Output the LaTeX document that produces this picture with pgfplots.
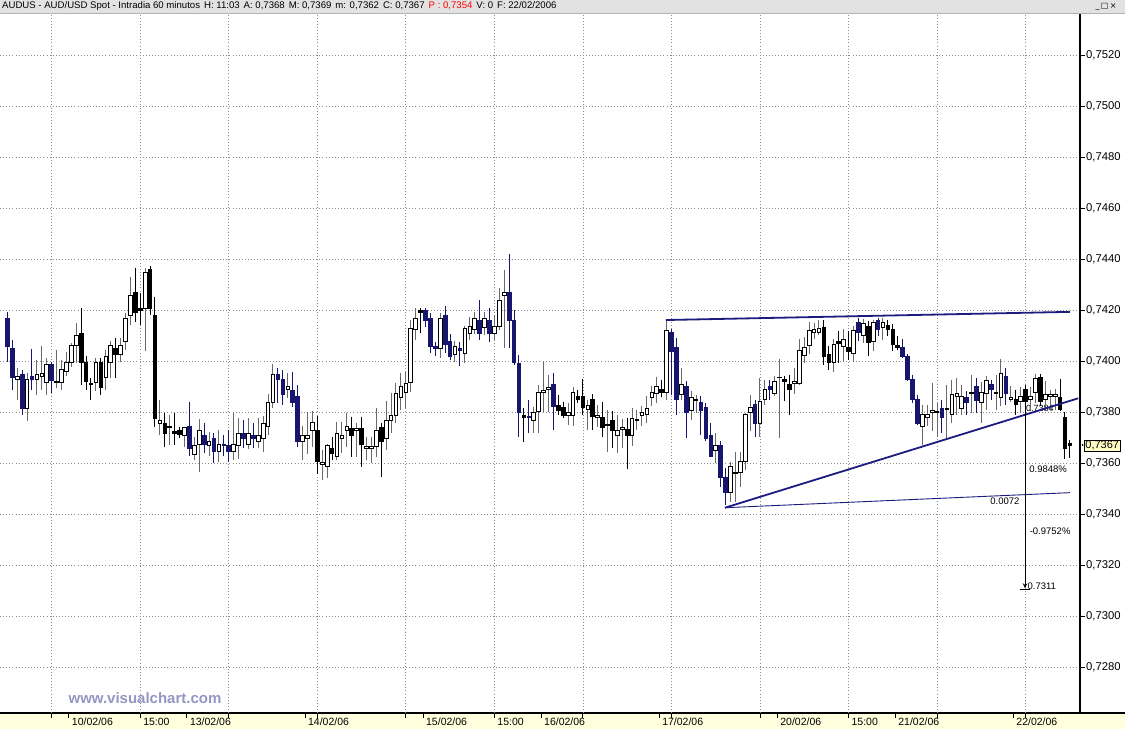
\documentclass[border=0pt]{standalone}
\usepackage{pgfplots}
\pgfplotsset{compat=1.18}
\usepackage{pgfplotstable}
\usepackage{fontspec}
\setmainfont{Liberation Sans}
\newfontfamily\dejavu{DejaVu Sans}
\usetikzlibrary{arrows.meta}

\definecolor{navyc}{RGB}{22,22,110}
\definecolor{wickg}{RGB}{105,105,105}
\definecolor{tline}{RGB}{28,28,128}
\definecolor{gridc}{RGB}{140,140,140}
\definecolor{hdr}{RGB}{226,226,226}
\definecolor{strip}{RGB}{255,255,222}
\definecolor{wm}{RGB}{150,150,196}
\definecolor{pbox}{RGB}{255,255,196}

% white (rising) candles
\pgfplotstableread{
i o h l c
2 0.73930 0.73973 0.73849 0.73940
4 0.73816 0.73953 0.73768 0.73930
6 0.73930 0.74006 0.73869 0.73950
7 0.73943 0.74061 0.73888 0.73951
8 0.73918 0.74012 0.73869 0.73990
10 0.73918 0.74045 0.73895 0.73923
11 0.73918 0.74006 0.73888 0.73969
12 0.73960 0.74038 0.73943 0.73995
13 0.73995 0.74071 0.73977 0.74061
14 0.74061 0.74149 0.73993 0.74100
18 0.73918 0.74012 0.73882 0.73997
20 0.73938 0.74045 0.73888 0.74019
21 0.73995 0.74081 0.73934 0.74061
23 0.74029 0.74091 0.73999 0.74061
24 0.74078 0.74189 0.74045 0.74169
25 0.74180 0.74332 0.74143 0.74258
28 0.74208 0.74365 0.74042 0.74349
31 0.73757 0.73849 0.73712 0.73769
33 0.73742 0.73790 0.73672 0.73747
36 0.73708 0.73744 0.73666 0.73742
38 0.73637 0.73705 0.73614 0.73669
39 0.73676 0.73773 0.73568 0.73730
41 0.73669 0.73721 0.73627 0.73685
43 0.73646 0.73731 0.73607 0.73675
46 0.73646 0.73799 0.73614 0.73675
47 0.73672 0.73777 0.73616 0.73718
49 0.73676 0.73777 0.73655 0.73718
51 0.73685 0.73777 0.73660 0.73708
52 0.73699 0.73784 0.73646 0.73757
53 0.73747 0.73872 0.73712 0.73838
54 0.73838 0.73990 0.73816 0.73950
57 0.73892 0.73953 0.73855 0.73901
60 0.73685 0.73747 0.73613 0.73708
61 0.73698 0.73803 0.73637 0.73708
62 0.73728 0.73807 0.73666 0.73760
64 0.73598 0.73653 0.73535 0.73602
65 0.73587 0.73676 0.73541 0.73670
67 0.73626 0.73764 0.73613 0.73718
68 0.73698 0.73764 0.73640 0.73708
69 0.73728 0.73799 0.73663 0.73744
71 0.73731 0.73760 0.73626 0.73738
73 0.73659 0.73705 0.73613 0.73668
74 0.73659 0.73705 0.73600 0.73668
75 0.73668 0.73816 0.73626 0.73728
77 0.73698 0.73846 0.73653 0.73770
78 0.73770 0.73875 0.73718 0.73790
79 0.73790 0.73917 0.73757 0.73875
80 0.73859 0.73953 0.73809 0.73901
81 0.73877 0.73960 0.73816 0.73914
82 0.73917 0.74162 0.73881 0.74130
83 0.74126 0.74208 0.74084 0.74169
88 0.74051 0.74189 0.74012 0.74169
91 0.74029 0.74081 0.73999 0.74060
93 0.74032 0.74139 0.73992 0.74130
94 0.74110 0.74173 0.74084 0.74136
95 0.74126 0.74195 0.74107 0.74169
97 0.74134 0.74195 0.74104 0.74169
99 0.74110 0.74182 0.74084 0.74139
100 0.74139 0.74286 0.74123 0.74241
101 0.74260 0.74358 0.74051 0.74269
107 0.73770 0.73822 0.73718 0.73799
108 0.73803 0.73907 0.73718 0.73877
109 0.73877 0.73999 0.73803 0.73888
110 0.73890 0.73947 0.73803 0.73898
114 0.73787 0.73836 0.73751 0.73799
115 0.73788 0.73900 0.73745 0.73879
118 0.73810 0.73849 0.73731 0.73829
120 0.73780 0.73829 0.73744 0.73790
122 0.73748 0.73810 0.73646 0.73753
124 0.73708 0.73791 0.73640 0.73730
125 0.73732 0.73774 0.73659 0.73741
127 0.73708 0.73817 0.73669 0.73778
128 0.73768 0.73810 0.73732 0.73772
129 0.73787 0.73826 0.73746 0.73800
130 0.73791 0.73865 0.73760 0.73815
131 0.73860 0.73905 0.73823 0.73879
132 0.73873 0.73939 0.73837 0.73900
134 0.73879 0.74162 0.73850 0.74122
137 0.73869 0.73974 0.73850 0.73909
139 0.73808 0.73882 0.73771 0.73860
140 0.73847 0.73869 0.73797 0.73852
144 0.73649 0.73719 0.73601 0.73670
147 0.73485 0.73607 0.73450 0.73590
148 0.73559 0.73646 0.73450 0.73564
149 0.73565 0.73646 0.73509 0.73607
150 0.73607 0.73797 0.73575 0.73791
151 0.73800 0.73869 0.73725 0.73821
153 0.73755 0.73935 0.73705 0.73843
154 0.73850 0.73928 0.73830 0.73889
156 0.73873 0.73941 0.73863 0.73922
157 0.73936 0.74010 0.73699 0.73939
160 0.73915 0.73974 0.73873 0.73922
161 0.73913 0.74088 0.73909 0.74044
162 0.74023 0.74096 0.73994 0.74053
163 0.74062 0.74154 0.74027 0.74122
164 0.74115 0.74149 0.74088 0.74125
165 0.74112 0.74162 0.74105 0.74128
168 0.73997 0.74088 0.73957 0.74066
170 0.74060 0.74125 0.74000 0.74088
172 0.74031 0.74138 0.73997 0.74122
174 0.74101 0.74167 0.74073 0.74149
176 0.74079 0.74164 0.74040 0.74154
178 0.74132 0.74171 0.74083 0.74151
186 0.73747 0.73830 0.73673 0.73791
187 0.73782 0.73830 0.73745 0.73791
188 0.73800 0.73915 0.73725 0.73806
189 0.73800 0.73837 0.73705 0.73804
191 0.73810 0.73909 0.73692 0.73817
192 0.73791 0.73928 0.73758 0.73869
193 0.73863 0.73935 0.73791 0.73873
194 0.73817 0.73909 0.73791 0.73863
196 0.73873 0.73948 0.73797 0.73879
198 0.73839 0.73918 0.73758 0.73879
199 0.73873 0.73941 0.73810 0.73926
201 0.73873 0.73948 0.73810 0.73879
202 0.73860 0.74010 0.73823 0.73952
204 0.73852 0.73905 0.73839 0.73860
206 0.73843 0.73900 0.73797 0.73863
208 0.73852 0.73900 0.73804 0.73863
209 0.73879 0.73952 0.73837 0.73935
211 0.73850 0.73922 0.73804 0.73869
212 0.73863 0.73889 0.73804 0.73869
213 0.73863 0.73892 0.73810 0.73869
}\whiteC

% black (falling) candles
\pgfplotstableread{
i o h l c
15 0.74110 0.74208 0.73908 0.73995
16 0.73997 0.74019 0.73888 0.73921
17 0.73914 0.73934 0.73849 0.73909
19 0.73997 0.74012 0.73869 0.73899
22 0.74050 0.74091 0.73934 0.74029
26 0.74270 0.74365 0.74156 0.74191
27 0.74208 0.74267 0.74143 0.74199
29 0.74361 0.74374 0.74182 0.74208
30 0.74182 0.74254 0.73744 0.73777
32 0.73757 0.73797 0.73666 0.73718
34 0.73727 0.73797 0.73672 0.73718
35 0.73731 0.73744 0.73699 0.73712
63 0.73731 0.73786 0.73560 0.73607
66 0.73659 0.73705 0.73613 0.73640
70 0.73738 0.73783 0.73626 0.73708
72 0.73738 0.73783 0.73587 0.73676
76 0.73741 0.73760 0.73548 0.73685
84 0.74198 0.74208 0.74110 0.74192
105 0.73790 0.73816 0.73685 0.73781
112 0.73829 0.73868 0.73790 0.73809
113 0.73820 0.73842 0.73777 0.73790
116 0.73862 0.73888 0.73836 0.73851
117 0.73861 0.73930 0.73791 0.73818
119 0.73850 0.73871 0.73731 0.73783
121 0.73780 0.73840 0.73705 0.73741
123 0.73768 0.73804 0.73659 0.73730
126 0.73732 0.73777 0.73579 0.73708
133 0.73889 0.73928 0.73860 0.73880
158 0.73931 0.73944 0.73843 0.73922
159 0.73909 0.73948 0.73791 0.73889
166 0.74132 0.74162 0.73987 0.74020
167 0.74027 0.74062 0.73968 0.73997
169 0.74079 0.74118 0.73994 0.74070
171 0.74053 0.74118 0.74007 0.74040
175 0.74138 0.74158 0.74020 0.74073
179 0.74141 0.74164 0.74101 0.74125
180 0.74125 0.74145 0.74040 0.74066
181 0.74062 0.74099 0.74046 0.74053
205 0.73852 0.73889 0.73791 0.73830
207 0.73889 0.73909 0.73797 0.73843
210 0.73939 0.73952 0.73823 0.73843
214 0.73860 0.73931 0.73804 0.73810
215 0.73782 0.73800 0.73616 0.73660
216 0.73680 0.73690 0.73620 0.73670
}\blackC

% navy (falling) candles
\pgfplotstableread{
i o h l c
0 0.74169 0.74195 0.73999 0.74058
1 0.74051 0.74084 0.73888 0.73938
3 0.73950 0.73966 0.73790 0.73816
5 0.73940 0.74050 0.73888 0.73930
9 0.73990 0.73997 0.73875 0.73927
37 0.73747 0.73842 0.73627 0.73660
40 0.73708 0.73757 0.73640 0.73676
42 0.73699 0.73718 0.73601 0.73646
44 0.73675 0.73712 0.73627 0.73670
45 0.73669 0.73729 0.73607 0.73646
48 0.73718 0.73770 0.73660 0.73699
50 0.73708 0.73760 0.73660 0.73699
55 0.73950 0.73973 0.73836 0.73931
56 0.73930 0.73966 0.73829 0.73871
58 0.73888 0.73960 0.73822 0.73838
59 0.73862 0.73907 0.73666 0.73685
85 0.74198 0.74208 0.74134 0.74160
86 0.74169 0.74189 0.74034 0.74060
87 0.74060 0.74077 0.74019 0.74051
89 0.74182 0.74217 0.74032 0.74068
90 0.74077 0.74106 0.74005 0.74019
92 0.74051 0.74077 0.73982 0.74042
96 0.74162 0.74241 0.74084 0.74110
98 0.74160 0.74208 0.74077 0.74110
102 0.74269 0.74421 0.74051 0.74162
103 0.74162 0.74202 0.73986 0.73995
104 0.73992 0.74025 0.73705 0.73799
106 0.73786 0.73849 0.73718 0.73781
111 0.73911 0.73953 0.73731 0.73822
135 0.74115 0.74128 0.73869 0.74040
136 0.74053 0.74092 0.73791 0.73850
138 0.73900 0.73922 0.73699 0.73800
141 0.73839 0.73863 0.73712 0.73808
142 0.73821 0.73837 0.73686 0.73699
143 0.73708 0.73758 0.73623 0.73627
145 0.73670 0.73686 0.73509 0.73546
146 0.73546 0.73581 0.73435 0.73485
152 0.73830 0.73850 0.73705 0.73755
155 0.73902 0.73928 0.73850 0.73889
173 0.74151 0.74171 0.74079 0.74112
177 0.74162 0.74171 0.74099 0.74125
182 0.74053 0.74086 0.74014 0.74020
183 0.74020 0.74027 0.73922 0.73931
184 0.73931 0.73948 0.73837 0.73852
185 0.73852 0.73869 0.73751 0.73758
190 0.73817 0.73850 0.73719 0.73782
195 0.73860 0.73882 0.73791 0.73839
197 0.73900 0.73935 0.73797 0.73847
200 0.73909 0.73928 0.73850 0.73889
203 0.73941 0.73974 0.73830 0.73873
}\navyC

% #1 table, #2 wick colour, #3 body fill, #4 body outline
\newcommand\drawcandles[4]{%
  \pgfplotstablegetrowsof{#1}%
  \pgfmathtruncatemacro\nrows{\pgfplotsretval-1}%
  \pgfplotsforeachungrouped \rr in {0,...,\nrows}{%
    \pgfplotstablegetelem{\rr}{i}\of{#1}\let\ci\pgfplotsretval
    \pgfplotstablegetelem{\rr}{o}\of{#1}\let\co\pgfplotsretval
    \pgfplotstablegetelem{\rr}{h}\of{#1}\let\chh\pgfplotsretval
    \pgfplotstablegetelem{\rr}{l}\of{#1}\let\cl\pgfplotsretval
    \pgfplotstablegetelem{\rr}{c}\of{#1}\let\cc\pgfplotsretval
    \pgfmathsetmacro\xa{\ci-0.37}%
    \pgfmathsetmacro\xb{\ci+0.37}%
    \edef\tmp{%
      \noexpand\addplot[forget plot, draw=#2, line width=0.9pt] coordinates {(\ci,\chh) (\ci,\cl)};
      \noexpand\addplot[forget plot, draw=#4, fill=#3, line width=0.7pt] coordinates {(\xa,\co) (\xb,\co) (\xb,\cc) (\xa,\cc)} -- cycle;
    }%
    \tmp
  }%
}

\begin{document}
\begin{tikzpicture}[x=1pt,y=1pt]
\useasboundingbox (0,0) rectangle (1125,729);
\fill[white] (0,0) rectangle (1125,729);
\fill[strip] (0,0) rectangle (1125,16);
\begin{axis}[
  at={(0pt,16pt)}, anchor=south west, scale only axis,
  width=1080pt, height=700pt,
  xmin=-1.484, xmax=218.07, ymin=0.72621, ymax=0.75366,
  axis x line*=bottom, axis y line*=right,
  axis line style={black, line width=1.2pt},
  clip=false,
  scaled y ticks=false,
  /pgf/number format/assume math mode=true,
  ytick={0.728,0.730,0.732,0.734,0.736,0.738,0.740,0.742,0.744,0.746,0.748,0.750,0.752},
  yticklabel style={anchor=west, inner sep=1pt, font=\fontsize{11.3}{12}\selectfont,
    /pgf/number format/.cd, fixed, fixed zerofill, precision=4, use comma},
  ymajorgrids,
  xtick={12.5,36.5,60.5,84.5,108.5,132.5,156.5,180.5,204.5},
  xticklabels={10/02/06,13/02/06,14/02/06,15/02/06,16/02/06,17/02/06,20/02/06,21/02/06,22/02/06},
  extra x ticks={9,27,45,63,81,99,117,135,153,171,189,207},
  extra x tick labels={,15:00,,,,15:00,,,,15:00,,},
  extra x tick style={grid=major},
  xticklabel style={anchor=west, yshift=-4pt, xshift=2pt, inner sep=1pt, font=\fontsize{10.5}{12}\selectfont},
  major grid style={gridc, line width=0.6pt, dash pattern=on 0.9pt off 2.2pt},
  tick align=outside, major tick length=5pt,
  tick style={black, line width=0.8pt},
]
% level label partly hidden behind the candles
\node[font=\fontsize{9}{10}\selectfont] at (axis cs:209.9,0.73817) {0.7384};

\drawcandles{\whiteC}{wickg}{white}{black}
\drawcandles{\blackC}{black}{black}{black}
\drawcandles{\navyC}{navyc}{navyc}{navyc}

% drawn trend lines
\addplot[tline, line width=1.8pt, forget plot] coordinates {(133.9,0.74162) (216.0,0.74194)};
\addplot[tline, line width=1.8pt, forget plot] coordinates {(145.9,0.73426) (217.7,0.73855)};
\addplot[tline, line width=0.9pt, forget plot] coordinates {(145.9,0.73426) (216.0,0.73485)};
% projection arrow
\addplot[black, line width=0.8pt, forget plot, -{Stealth[length=5pt,width=4.5pt]}] coordinates {(206.9,0.73835) (206.9,0.73110)};
\addplot[black, line width=0.8pt, forget plot] coordinates {(205.8,0.73106) (208.0,0.73106)};

\node[font=\fontsize{9.5}{10}\selectfont] at (axis cs:211.6,0.73578) {0.9848\%};
\node[font=\fontsize{9.5}{10}\selectfont] at (axis cs:202.8,0.73452) {0.0072};
\node[font=\fontsize{9.5}{10}\selectfont] at (axis cs:212.0,0.73333) {-0.9752\%};
\node[font=\fontsize{9.5}{10}\selectfont] at (axis cs:210.3,0.73119) {0.7311};

% current price tag
\node[anchor=west, fill=pbox, draw=black, line width=0.5pt, inner sep=1.2pt,
  font=\fontsize{11}{12}\selectfont, xshift=4pt] at (axis cs:218.07,0.7367) {0,7367};
\end{axis}
% bottom line under the price scale
\draw[black, line width=1.2pt] (1080,16) -- (1125,16);
\fill[black] (1082.5,284) circle (1pt);
% header bar
\fill[hdr] (0,716) rectangle (1125,729);
\draw[gray!60, line width=0.4pt] (0,716) -- (1125,716);
\node[anchor=west, inner sep=0pt, font=\fontsize{9.6}{10}\selectfont] at (2,722.5)
  {AUDUS - AUD/USD Spot - Intradia 60 minutos\hspace{4pt}H: 11:03\hspace{4pt}A: 0,7368\hspace{4pt}M: 0,7369\hspace{4pt}m: 0,7362\hspace{4pt}C: 0,7367\hspace{4pt}{\color{red}P : 0,7354}\hspace{4pt}V: 0\hspace{4pt}F: 22/02/2006};
\node[font=\dejavu\fontsize{8}{8}\selectfont, inner sep=0pt] at (1106,722.5) {\_\,□\,×};
% watermark
\node[font=\bfseries\fontsize{15}{16}\selectfont, text=wm, inner sep=0pt] at (145,31) {www.visualchart.com};
\end{tikzpicture}
\end{document}
